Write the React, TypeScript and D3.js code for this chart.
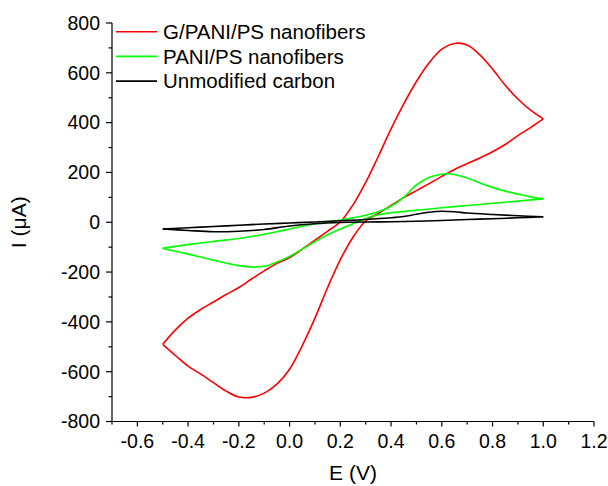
import React from "react";
import * as d3 from "d3";

type Pt = [number, number];

// G/PANI/PS nanofibers (red)
const redAnodic: Pt[] = [
  [-0.5, -490], [-0.45, -432], [-0.4, -385], [-0.35, -350], [-0.3, -320], [-0.25, -290],
  [-0.2, -262], [-0.15, -228], [-0.1, -195], [-0.05, -165], [0, -142], [0.05, -108],
  [0.1, -72], [0.15, -36], [0.2, 2], [0.25, 70], [0.3, 160], [0.35, 265], [0.4, 375],
  [0.45, 475], [0.5, 565], [0.55, 640], [0.6, 695], [0.65, 718], [0.7, 712], [0.75, 672],
  [0.8, 615], [0.85, 550], [0.9, 495], [0.95, 450], [1.0, 415],
];
const redCathodic: Pt[] = [
  [1.0, 415], [0.95, 380], [0.9, 348], [0.85, 312], [0.8, 283], [0.75, 258], [0.7, 235],
  [0.65, 212], [0.6, 184], [0.55, 155], [0.5, 127], [0.45, 99], [0.4, 68], [0.35, 35],
  [0.3, 5], [0.25, -60], [0.2, -150], [0.15, -262], [0.1, -385], [0.05, -495], [0, -590],
  [-0.05, -650], [-0.1, -686], [-0.15, -703], [-0.2, -702], [-0.25, -678], [-0.3, -644],
  [-0.35, -610], [-0.4, -578], [-0.45, -535], [-0.5, -490],
];

// PANI/PS nanofibers (green)
const greenAnodic: Pt[] = [
  [-0.5, -105], [-0.45, -97], [-0.4, -90], [-0.3, -77], [-0.2, -65], [-0.15, -57],
  [-0.1, -48], [-0.05, -38], [0, -27], [0.05, -16], [0.1, -6], [0.15, 2], [0.2, 9],
  [0.25, 18], [0.3, 28], [0.35, 42], [0.4, 64], [0.45, 100], [0.5, 150], [0.55, 180],
  [0.6, 193], [0.625, 195], [0.65, 192], [0.7, 178], [0.75, 158], [0.8, 140], [0.85, 125],
  [0.9, 113], [0.95, 102], [1.0, 94],
];
const greenCathodic: Pt[] = [
  [1.0, 94], [0.9, 85], [0.8, 76], [0.7, 67], [0.6, 58], [0.5, 48], [0.4, 38], [0.35, 30],
  [0.3, 15], [0.25, -6], [0.2, -27], [0.15, -50], [0.1, -78], [0.05, -108], [0, -137],
  [-0.05, -160], [-0.1, -177], [-0.15, -180], [-0.2, -174], [-0.3, -152], [-0.4, -128],
  [-0.5, -105],
];

// Unmodified carbon (black)
const blackAnodic: Pt[] = [
  [-0.5, -27], [-0.4, -22], [-0.3, -17], [-0.2, -12], [-0.1, -7], [0, -3], [0.1, 1],
  [0.2, 6], [0.3, 11], [0.4, 18], [0.45, 23], [0.5, 32], [0.55, 40], [0.6, 44], [0.65, 42],
  [0.7, 37], [0.8, 31], [0.9, 26], [1.0, 22],
];
const blackCathodic: Pt[] = [
  [1.0, 22], [0.9, 18], [0.8, 14], [0.7, 11], [0.6, 7], [0.5, 4], [0.4, 2], [0.3, 1],
  [0.2, -1], [0.1, -6], [0, -15], [-0.1, -29], [-0.2, -36], [-0.3, -38], [-0.4, -33],
  [-0.5, -27],
];

const seriesNames = ["G/PANI/PS nanofibers", "PANI/PS nanofibers", "Unmodified carbon"];
const seriesColors = ["#ff0000", "#00ff00", "#000000"];
const seriesBranches: Pt[][][] = [
  [redAnodic, redCathodic],
  [greenAnodic, greenCathodic],
  [blackAnodic, blackCathodic],
];

const xMajorTicks = [-0.6, -0.4, -0.2, 0.0, 0.2, 0.4, 0.6, 0.8, 1.0, 1.2];
const xMinorTicks = [-0.7, -0.5, -0.3, -0.1, 0.1, 0.3, 0.5, 0.7, 0.9, 1.1];
const yMajorTicks = [-800, -600, -400, -200, 0, 200, 400, 600, 800];
const yMinorTicks = [-700, -500, -300, -100, 100, 300, 500, 700];

const W = 608;
const H = 486;
const FONT = "'Liberation Sans', Arial, Helvetica, sans-serif";

export default function App() {
  const x = d3.scaleLinear().domain([-0.7, 1.2]).range([112, 594]);
  const y = d3.scaleLinear().domain([-800, 800]).range([421.5, 23]);
  const line = d3
    .line<Pt>()
    .x((d) => x(d[0]))
    .y((d) => y(d[1]))
    .curve(d3.curveCatmullRom.alpha(0.5));

  const x0 = x.range()[0];
  const yb = y.range()[0];
  const fs = 19.5;
  const fsLegend = 20.5;
  const fsTitle = 21;

  return (
    <svg
      width={W}
      height={H}
      style={{ position: "absolute", left: 0, top: 0, background: "#fff" }}
      fontFamily={FONT}
    >
      <rect width={W} height={H} fill="#fff" />
      {/* curves */}
      {seriesBranches.map((branches, si) =>
        branches.map((b, bi) => (
          <path
            key={`${si}-${bi}`}
            d={line(b) || ""}
            fill="none"
            stroke={seriesColors[si]}
            strokeWidth={1.6}
            strokeLinejoin="miter"
          />
        ))
      )}
      {/* axes */}
      <line x1={x0} x2={x0} y1={y(800)} y2={yb} stroke="#000" strokeWidth={1.2} />
      <line x1={x0} x2={x(1.2)} y1={yb} y2={yb} stroke="#000" strokeWidth={1.2} />
      {yMajorTicks.map((t) => (
        <g key={`ym${t}`}>
          <line x1={x0 - 6} x2={x0} y1={y(t)} y2={y(t)} stroke="#000" strokeWidth={1.2} />
          <text x={x0 - 12} y={y(t)} dy="0.35em" textAnchor="end" fontSize={fs} fill="#000">
            {t}
          </text>
        </g>
      ))}
      {yMinorTicks.map((t) => (
        <line key={`yn${t}`} x1={x0 - 3.5} x2={x0} y1={y(t)} y2={y(t)} stroke="#000" strokeWidth={1.2} />
      ))}
      {xMajorTicks.map((t) => (
        <g key={`xm${t}`}>
          <line x1={x(t)} x2={x(t)} y1={yb} y2={yb + 5} stroke="#000" strokeWidth={1.2} />
          <text x={x(t)} y={yb + 26} textAnchor="middle" fontSize={fs} fill="#000">
            {t.toFixed(1)}
          </text>
        </g>
      ))}
      {xMinorTicks.map((t) => (
        <line key={`xn${t}`} x1={x(t)} x2={x(t)} y1={yb} y2={yb + 3} stroke="#000" strokeWidth={1.2} />
      ))}
      {/* axis titles */}
      <text x={(x.range()[0] + x.range()[1]) / 2} y={480} textAnchor="middle" fontSize={fsTitle} fill="#000">
        E (V)
      </text>
      <text
        transform={`translate(26, ${(y.range()[0] + y.range()[1]) / 2}) rotate(-90)`}
        textAnchor="middle"
        fontSize={fsTitle}
        fill="#000"
      >
        I (μA)
      </text>
      {/* legend */}
      {seriesNames.map((n, i) => (
        <g key={n}>
          <line x1={116} x2={157} y1={31.7 + i * 24.7} y2={31.7 + i * 24.7} stroke={seriesColors[i]} strokeWidth={1.6} />
          <text x={163} y={31.7 + i * 24.7} dy="0.35em" fontSize={fsLegend} fill="#000">
            {n}
          </text>
        </g>
      ))}
    </svg>
  );
}
